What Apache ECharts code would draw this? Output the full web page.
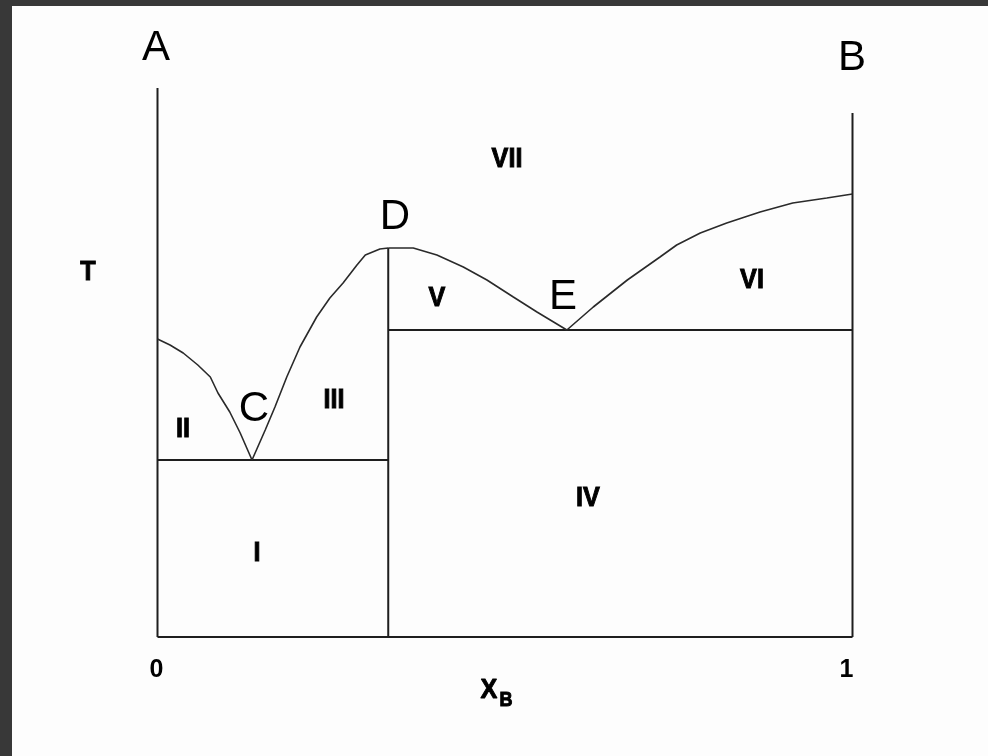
<!DOCTYPE html>
<html>
<head>
<meta charset="utf-8">
<script src="https://cdn.jsdelivr.net/npm/echarts@6/dist/echarts.min.js"></script>
<style>
  html, body { margin: 0; padding: 0; background: #383838; }
  #chart { width: 988px; height: 756px; }
</style>
</head>
<body>
<div id="chart"></div>
<script>
// Binary phase diagram A–B with a congruently melting compound D.
// Composition X_B runs 0..1, temperature T in arbitrary units.

const xTickLabels = ['0', '1'];

// Invariant compositions / temperatures
const xCompound = 0.332;     // compound D composition
const tCompound = 389;       // melting point of D
const tEutecticC = 177;      // eutectic C temperature
const tEutecticE = 307;      // eutectic E temperature
const tTopA = 549;           // top of the pure-A wall
const tTopB = 524;           // top of the pure-B wall

// Liquidus: A to eutectic C
const liqAC_x = [0, 0.018, 0.037, 0.058, 0.076, 0.087, 0.104, 0.119, 0.136];
const liqAC_T = [298, 292, 284, 272, 260, 244, 225, 204, 177];

// Liquidus: eutectic C up to compound D
const liqCD_x = [0.136, 0.155, 0.169, 0.186, 0.205, 0.229, 0.248, 0.267, 0.287, 0.299, 0.320, 0.332];
const liqCD_T = [177, 207, 230, 260, 290, 320, 339, 354, 372, 382, 388, 389];

// Liquidus: compound D down to eutectic E
const liqDE_x = [0.332, 0.368, 0.402, 0.440, 0.474, 0.512, 0.546, 0.589];
const liqDE_T = [389, 389, 382, 370, 357, 340, 325, 307];

// Liquidus: eutectic E up to B
const liqEB_x = [0.589, 0.627, 0.676, 0.723, 0.747, 0.781, 0.819, 0.867, 0.914, 0.963, 1.0];
const liqEB_T = [307, 330, 357, 380, 392, 404, 414, 425, 434, 439, 443];

const pairs = (xs, ts) => xs.map((x, i) => [x, ts[i]]);

const frameStyle = { color: '#1e1e1e', width: 2 };
const curveStyle = { color: '#2a2a2a', width: 1.6 };

function seg(data, style) {
  return {
    type: 'line',
    data: data,
    symbol: 'none',
    silent: true,
    animation: false,
    lineStyle: style
  };
}

const series = [
  seg([[0, 0], [0, tTopA]], frameStyle),
  seg([[1, 0], [1, tTopB]], frameStyle),
  seg([[0, 0], [1, 0]], frameStyle),
  seg([[xCompound, 0], [xCompound, tCompound]], frameStyle),
  seg([[0, tEutecticC], [xCompound, tEutecticC]], frameStyle),
  seg([[xCompound, tEutecticE], [1, tEutecticE]], frameStyle),
  seg(pairs(liqAC_x, liqAC_T), curveStyle),
  seg(pairs(liqCD_x, liqCD_T), curveStyle),
  seg(pairs(liqDE_x, liqDE_T), curveStyle),
  seg(pairs(liqEB_x, liqEB_T), curveStyle)
];

const letterFont = '42px "Liberation Sans", Arial, sans-serif';
const romanFont = 'bold 28px "Liberation Sans", Arial, sans-serif';
const narrow = 0.9;   // horizontal squeeze for the heavy narrow labels

function txt(text, x, y, font) {
  return {
    type: 'text', x: x, y: y, silent: true,
    style: { text: text, font: font, fill: '#000', align: 'center', verticalAlign: 'middle' }
  };
}

// heavy, narrow label: squeezed horizontally and thickened with a stroke
function heavy(text, x, y, font, sx) {
  return {
    type: 'text', x: x, y: y, silent: true,
    scaleX: sx || narrow,
    style: {
      text: text, font: font || romanFont, fill: '#000',
      stroke: '#000', lineWidth: 1,
      align: 'center', verticalAlign: 'middle'
    }
  };
}

const chart = echarts.init(document.getElementById('chart'), null, { renderer: 'canvas' });
chart.setOption({
  backgroundColor: 'transparent',
  animation: false,
  grid: { left: 157.5, right: 135.5, top: 87, bottom: 119 },
  xAxis: {
    type: 'value',
    min: 0, max: 1, interval: 1,
    axisLine: { show: false },
    axisTick: { show: false },
    splitLine: { show: false },
    axisLabel: {
      margin: 21,
      color: '#000',
      fontFamily: '"Liberation Sans", Arial, sans-serif',
      fontWeight: 'bold',
      fontSize: 25,
      formatter: v => (v === 0 ? '{a|' + xTickLabels[0] + '}' : '{b|' + xTickLabels[1] + '}'),
      rich: {
        a: { fontFamily: '"Liberation Sans", Arial, sans-serif', fontWeight: 'bold', fontSize: 25, padding: [0, 2, 0, 0] },
        b: { fontFamily: '"Liberation Sans", Arial, sans-serif', fontWeight: 'bold', fontSize: 25, padding: [0, 12, 8, 0] }
      }
    }
  },
  yAxis: { type: 'value', min: 0, max: 550, show: false },
  graphic: [
    { type: 'rect', z: -10, silent: true, shape: { x: 12, y: 6, width: 976, height: 750 }, style: { fill: '#fdfdfd' } },
    txt('A', 156, 48, letterFont),
    txt('B', 852, 58, letterFont),
    txt('C', 254, 409, letterFont),
    txt('D', 395, 217, letterFont),
    txt('E', 563, 297, letterFont),
    heavy('I', 257, 553),
    heavy('II', 183, 429),
    heavy('III', 334, 400),
    heavy('IV', 588, 498),
    heavy('V', 437, 298),
    heavy('VI', 752, 280),
    heavy('VII', 507, 159),
    heavy('T', 88, 272, null, 0.9),
    heavy('X', 489, 690),
    heavy('B', 506, 700, 'bold 20px "Liberation Sans", Arial, sans-serif')
  ],
  series: series
});
</script>
</body>
</html>
